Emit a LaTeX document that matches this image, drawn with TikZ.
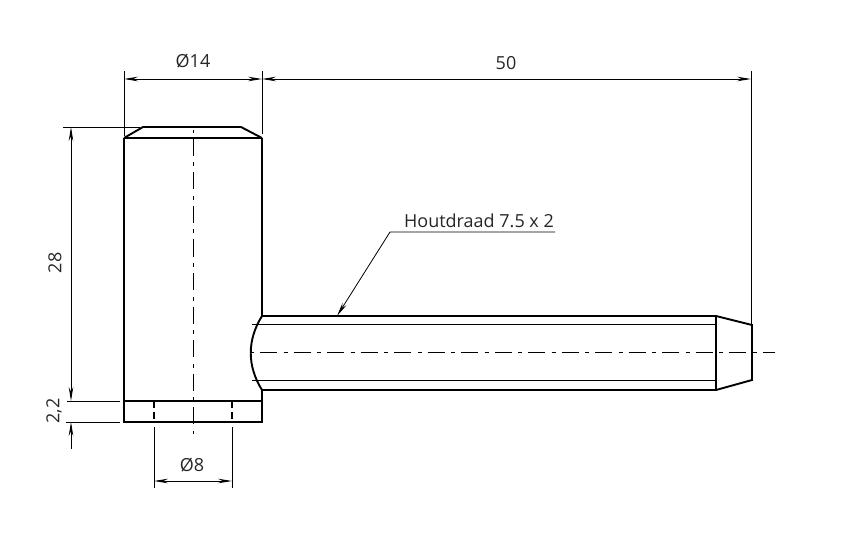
\documentclass[tikz,border=0pt]{standalone}
\usepackage{fontspec}
\setmainfont{Open Sans}
\usetikzlibrary{arrows.meta}
\tikzset{
	part/.style={line width=1.9pt},
	thin line/.style={line width=0.8pt},
	center line/.style={line width=0.8pt, dash pattern=on 17pt off 6.5pt on 4pt off 6pt, dash phase=24.5pt},
	hidden line/.style={line width=1.5pt, dash pattern=on 7pt off 4pt},
	dim/.style={line width=0.8pt, {Stealth[length=14pt,width=4.5pt]}-{Stealth[length=14pt,width=4.5pt]}},
	dim label/.style={font=\fontsize{18}{21}\selectfont, text=black!85},
}

\begin{document}
\begin{tikzpicture}[x=1pt, y=-1pt]
	\useasboundingbox (0, 0) rectangle (846, 548);
	% head
	\draw[part] (124, 138) -- (143, 127) -- (241, 127) -- (262, 138);
	\draw[part] (124, 138) -- (262, 138);
	\draw[part] (262, 316) -- (262, 138);
	\draw[part] (124, 138) -- (124, 422) -- (262, 422) -- (262, 390);
	\draw[line width=2.6pt] (124, 401) -- (262, 401);
	\draw[hidden line] (154, 401) -- (154, 422);
	\draw[hidden line] (232, 401) -- (232, 422);
	\draw[center line] (193, 130) -- (193, 434);
	% shaft
	\draw[part] (262, 316) -- (716, 316) -- (752, 325) -- (752, 380) -- (716, 390) -- (262, 390);
	\draw[part] (716, 316) -- (716, 390);
	\draw[part] (262, 316) .. controls (247, 340) and (247, 366) .. (262, 390);
	\draw[thin line] (252, 324) -- (716, 324);
	\draw[thin line] (252, 380) -- (716, 380);
	\draw[center line] (251, 352) -- (775, 352);
	% extension lines
	\draw[thin line] (124, 71) -- (124, 136);
	\draw[thin line] (262, 71) -- (262, 134);
	\draw[thin line] (751, 71) -- (751, 324);
	\draw[thin line] (63, 127) -- (140, 127);
	\draw[thin line] (67, 401) -- (120, 401);
	\draw[thin line] (66, 422) -- (120, 422);
	\draw[thin line] (154, 427) -- (154, 488);
	\draw[thin line] (232, 427) -- (232, 488);
	% dimensions
	\draw[dim] (124, 79) -- (262, 79);
	\node[dim label] (dia14) at (193, 61) {Ø14};
	\draw[dim] (262, 79) -- (751, 79);
	\node[dim label] (len50) at (506, 63) {50};
	\draw[dim] (71, 127) -- (71, 401);
	\node[dim label, rotate=90] (len28) at (55, 263) {28};
	\draw[dim] (154, 481) -- (232, 481);
	\node[dim label] (dia8) at (192, 465) {Ø8};
	\draw[thin line, {Stealth[length=14pt,width=4.5pt]}-] (71, 422) -- (71, 449);
	\node[dim label, rotate=90] (len22) at (54, 411) {2,2};
	% thread note
	\node[dim label, anchor=south, inner sep=1pt] (thread) at (479, 229) {Houtdraad 7.5 x 2};
	\draw[thin line, {Stealth[length=14pt,width=4.5pt]}-] (337, 316) -- (390, 232) -- (555, 232);
\end{tikzpicture}
\end{document}
